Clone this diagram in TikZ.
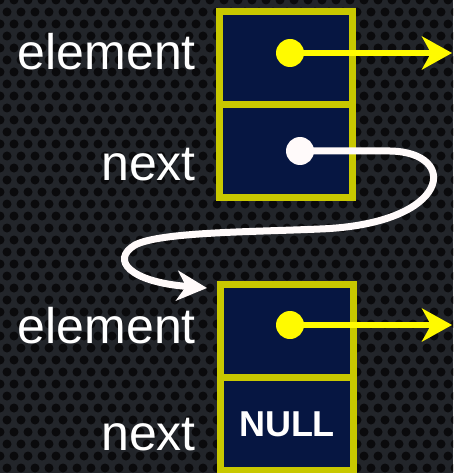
\documentclass[tikz,border=0pt]{standalone}
\usepackage{fontspec}
\setmainfont{Liberation Sans}
\usepackage{tikz}
\usetikzlibrary{arrows.meta, positioning, calc}

\definecolor{bggray}{RGB}{34,37,42}
\definecolor{bghole}{RGB}{10,10,12}
\definecolor{cellfill}{RGB}{6,22,66}
\definecolor{celledge}{RGB}{200,200,0}
\definecolor{ptryellow}{RGB}{255,250,0}
\definecolor{ptrwhite}{RGB}{255,250,250}

\begin{document}
\begin{tikzpicture}[x=1pt, y=-1pt,
                cell/.style={draw=celledge, fill=cellfill, line width=7pt,
                           minimum width=133pt, minimum height=93pt,
                           inner sep=0pt, outer sep=0pt},
                lbl/.style={text=white, font=\fontsize{50}{60}\selectfont,
                           inner sep=0pt, anchor=base east},
                dot/.style={circle, inner sep=0pt, minimum size=28pt},
                yarrow/.style={-{Stealth[length=30pt, width=33pt, inset=9pt]},
                           draw=ptryellow, line width=6pt},
                warrow/.style={-{Stealth[length=30pt, width=30pt, inset=9pt]},
                           draw=ptrwhite, line width=7pt, line cap=round}]

                % perforated background
                \useasboundingbox (0,0) rectangle (453,473);
                \begin{scope}
                    \clip (0,0) rectangle (453,473);
                    \fill[bggray] (0,0) rectangle (453,473);
                    \foreach \row in {0,...,40}{
                        \foreach \col in {0,...,33}{
                            \fill[bghole] ({\col*14 + mod(\row,2)*7}, {\row*12}) circle (4.5pt);
                        }
                    }
                \end{scope}

                % first list node
                \node[cell] (elemA) at (286,58) {};
                \node[cell, below=0pt of elemA] (nextA) {};

                % second list node
                \node[cell] (elemB) at (287,331) {};
                \node[cell, below=0pt of elemB, text=white,
                      font=\bfseries\fontsize{36}{40}\selectfont] (nextB) {NULL};

                % field labels
                \node[lbl] (lelemA) at (196,70) {element};
                \node[lbl] (lnextA) at (196,180) {next};
                \node[lbl] (lelemB) at (196,343) {element};
                \node[lbl] (lnextB) at (196,450) {next};

                % pointers
                \node[dot, fill=ptryellow] (dotA) at (290,53) {};
                \node[dot, fill=ptrwhite] (dotN) at (300,151) {};
                \node[dot, fill=ptryellow] (dotB) at (290,325) {};
                \coordinate (tipA) at (452,53);
                \coordinate (tipB) at (452,325);

                \draw[yarrow] (dotA.center) -- (tipA);
                \draw[yarrow] (dotB.center) -- (tipB);

                % next pointer looping down to the second node
                \draw[warrow] (dotN.center) -- (390,151)
                    .. controls (460,152) and (452,224) .. (320,229)
                    .. controls (250,232) and (160,232) .. (135,245)
                    .. controls (110,260) and (130,282) .. (207,288);
            \end{tikzpicture}
\end{document}
